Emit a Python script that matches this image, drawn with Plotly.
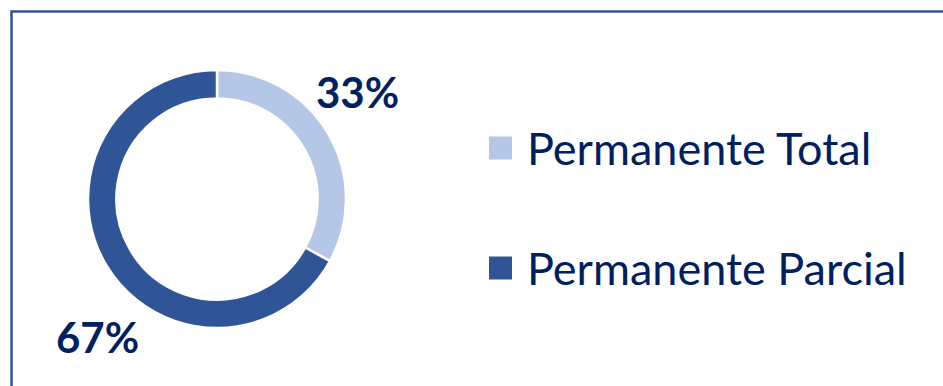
import plotly.graph_objects as go

# Data
categories = ["Permanente Total", "Permanente Parcial"]
values = [33, 67]
colors = ["#B4C7E7", "#2F5597"]
text_color = "#002060"

W, H = 943, 386

fig = go.Figure()

fig.add_trace(go.Pie(
    labels=categories,
    values=values,
    hole=0.78,
    sort=False,
    direction="clockwise",
    rotation=0,
    marker=dict(colors=colors, line=dict(color="white", width=2.5)),
    textinfo="none",
    hoverinfo="label+percent",
    showlegend=False,
    domain=dict(x=[88 / W, 346 / W], y=[1 - 328 / H, 1 - 70 / H]),
))

total = sum(values)
pct_labels = [f"{round(v / total * 100)}%" for v in values]

# Percentage labels beside their segments
label_pos = [(357, 92), (97, 337)]
for txt, (px, py) in zip(pct_labels, label_pos):
    fig.add_annotation(
        x=px / W, y=1 - py / H, xref="paper", yref="paper",
        text=f"<b>{txt}</b>", showarrow=False,
        font=dict(family="Lato", size=42, color=text_color),
        xanchor="center", yanchor="middle",
    )

# Legend: square swatches with labels
legend_rows = [148, 268]
for cat, col, ry in zip(categories, colors, legend_rows):
    fig.add_shape(
        type="rect", xref="paper", yref="paper",
        x0=489 / W, x1=512 / W, y0=1 - (ry + 11.5) / H, y1=1 - (ry - 11.5) / H,
        fillcolor=col, line=dict(width=0),
    )
    fig.add_annotation(
        x=525 / W, y=1 - ry / H, xref="paper", yref="paper",
        text=cat, showarrow=False,
        font=dict(family="Lato", size=45, color=text_color),
        xanchor="left", yanchor="middle",
    )

# Frame around the chart area
fig.add_shape(
    type="rect", xref="paper", yref="paper",
    x0=11.5 / W, x1=1.05, y0=-0.05, y1=1 - 11.5 / H,
    line=dict(color="#2F5597", width=2.5), fillcolor="rgba(0,0,0,0)",
)

fig.update_layout(
    width=W, height=H,
    margin=dict(l=0, r=0, t=0, b=0),
    paper_bgcolor="white",
    plot_bgcolor="white",
)

fig.write_html("out.html")
